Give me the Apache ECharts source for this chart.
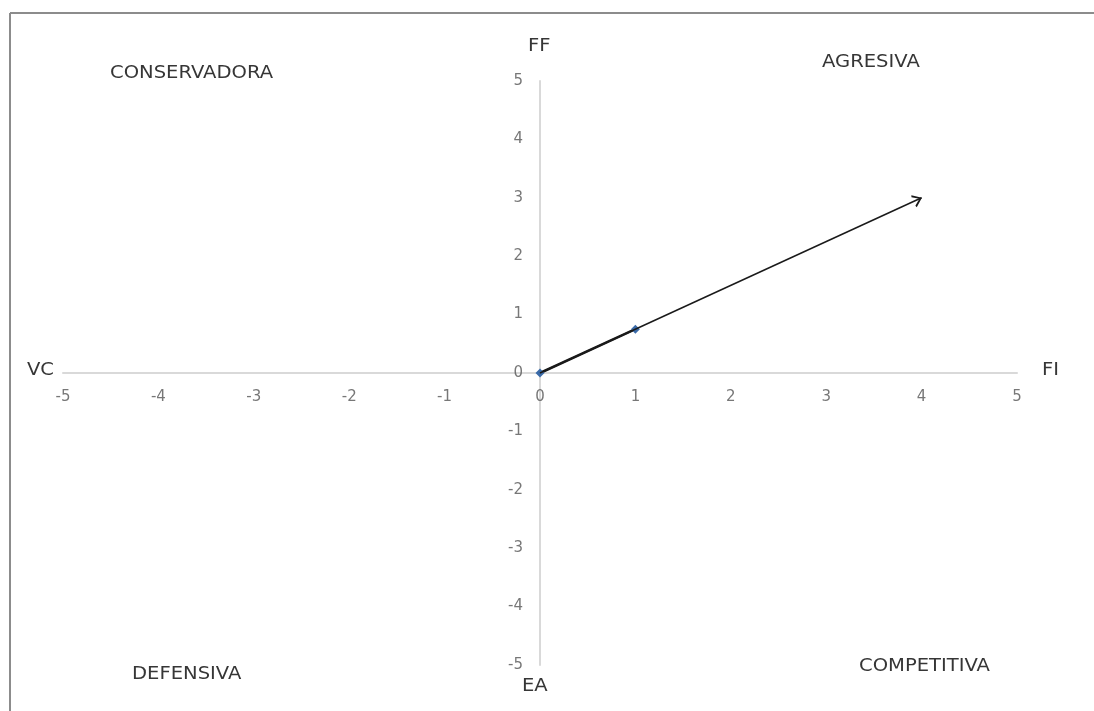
<!DOCTYPE html>
<html><head><meta charset="utf-8">
<script src="https://cdn.jsdelivr.net/npm/echarts@6/dist/echarts.min.js"></script>
<style>html,body{margin:0;padding:0;background:#fff}#c{width:1094px;height:711px}</style>
</head><body><div id="c"></div>
<script>
const pointsX = [0, 1];
const pointsY = [0, 0.75];
const arrowStart = [0, 0];
const arrowEnd = [4, 3];
const xTicks = [-5, -4, -3, -2, -1, 0, 1, 2, 3, 4, 5];
const yTicks = [-5, -4, -3, -2, -1, 0, 1, 2, 3, 4, 5];
const axisNames = { left: 'VC', right: 'FI', top: 'FF', bottom: 'EA' };
const quadrants = ['CONSERVADORA', 'AGRESIVA', 'DEFENSIVA', 'COMPETITIVA'];

const chart = echarts.init(document.getElementById('c'));
const font = '"DejaVu Sans", "Open Sans", sans-serif';
const txt = (t, x, y, size) => ({
  type: 'text', x: x, y: y, scaleX: 1.15,
  style: { text: t, fill: '#363636', font: (size||15) + 'px ' + font, textVerticalAlign: 'top' }
});
const tickLbl = { show: true, color: '#555555', fontSize: 15, fontFamily: font, formatter: p => String(p.value[2]) };
chart.setOption({
  animation: false,
  grid: { left: 63, right: 77, top: 81, bottom: 46 },
  xAxis: {
    type: 'value', min: -5, max: 5, interval: 1,
    axisLine: { onZero: true, lineStyle: { color: '#d9d9d9', width: 2 } },
    axisTick: { show: false }, splitLine: { show: false }, axisLabel: { show: false }
  },
  yAxis: {
    type: 'value', min: -5, max: 5, interval: 1,
    axisLine: { onZero: true, lineStyle: { color: '#d9d9d9', width: 2 } },
    axisTick: { show: false }, splitLine: { show: false }, axisLabel: { show: false }
  },
  series: [{
    type: 'line',
    data: pointsX.map((x, i) => [x, pointsY[i]]),
    symbol: 'diamond', symbolSize: 9,
    itemStyle: { color: '#3a6aa8' },
    lineStyle: { color: '#1a1a1a', width: 2.5 },
    z: 3,
    markLine: {
      silent: true,
      symbol: ['none', 'path://M5,0 L5.02,0 L5,0.02 Z M0,20 L5,10 L10,20 L8.6,20.8 L5,13.2 L1.4,20.8 Z'],
      symbolSize: [13, 18],
      label: { show: false },
      itemStyle: { color: '#1a1a1a' },
      lineStyle: { color: '#1a1a1a', width: 1.5, type: 'solid' },
      data: [[{ coord: arrowStart }, { coord: arrowEnd }]]
    }
  }, {
    type: 'scatter', symbolSize: 0, silent: true,
    data: xTicks.map(v => [v, 0, v]),
    label: Object.assign({ position: 'bottom', distance: 17 }, tickLbl)
  }, {
    type: 'scatter', symbolSize: 0, silent: true,
    data: yTicks.map(v => [0, v, v]),
    label: Object.assign({ position: 'left', distance: 17 }, tickLbl)
  }],
  graphic: [
    { type: 'line', shape: { x1: 10, y1: 13, x2: 1094, y2: 13 }, style: { stroke: '#8c8c8c', lineWidth: 2 } },
    { type: 'line', shape: { x1: 10, y1: 13, x2: 10, y2: 711 }, style: { stroke: '#8c8c8c', lineWidth: 2 } },
    txt(axisNames.left, 27, 362, 17),
    txt(axisNames.right, 1042, 362, 17),
    txt(axisNames.top, 528, 38, 17),
    txt(axisNames.bottom, 522, 678, 17),
    txt(quadrants[0], 110, 65, 17),
    txt(quadrants[1], 822, 54, 17),
    txt(quadrants[2], 132, 666, 17),
    txt(quadrants[3], 859, 658, 17)
  ]
});
</script></body></html>
